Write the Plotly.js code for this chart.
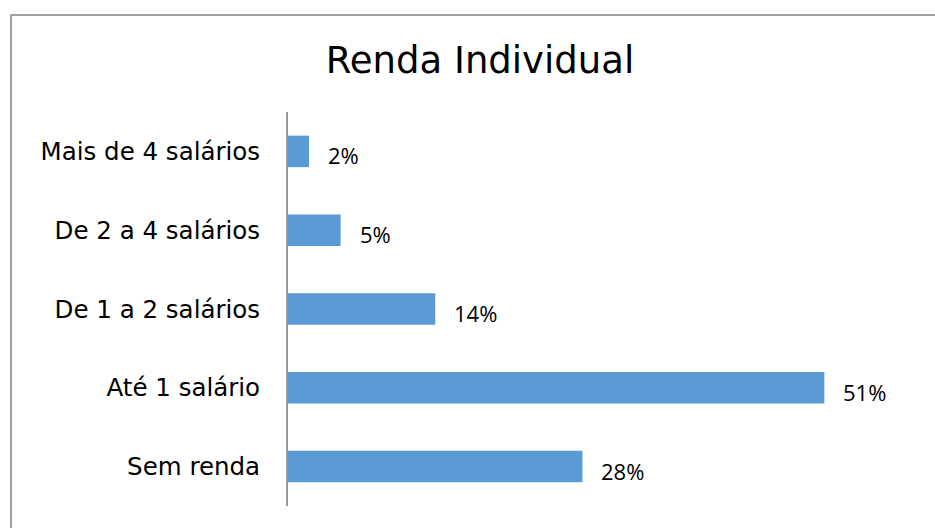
<!DOCTYPE html>
<html>
<head>
<meta charset="utf-8">
<script src="https://cdn.plot.ly/plotly-3.0.1.min.js"></script>
<style>
  html, body { margin: 0; padding: 0; background: #fff; overflow: hidden; }
  #frame { position: absolute; left: 10px; top: 14px; width: 940px; height: 540px;
           border-left: 2px solid #a0a0a0; border-top: 2px solid #a0a0a0; pointer-events: none; z-index: 5; }
  #chart { position: absolute; left: 0; top: 0; width: 935px; height: 528px; }
</style>
</head>
<body>
<div id="chart"></div>
<div id="frame"></div>
<script>
const categories = ["Sem renda", "Até 1 salário", "De 1 a 2 salários", "De 2 a 4 salários", "Mais de 4 salários"];
const values = [28, 51, 14, 5, 2];
const valueLabels = ["28%", "51%", "14%", "5%", "2%"];

const trace = {
  type: 'bar',
  orientation: 'h',
  x: values,
  y: categories,
  marker: { color: '#5b9bd5' },
  hoverinfo: 'none'
};

const annotations = values.map((v, i) => ({
  x: v, y: categories[i], xref: 'x', yref: 'y',
  text: valueLabels[i], showarrow: false,
  xanchor: 'left', yanchor: 'middle', xshift: 17, yshift: -4,
  font: { family: 'Open Sans, sans-serif', size: 22, color: '#000' }
}));

const layout = {
  width: 935, height: 528,
  margin: { l: 288, r: 16, t: 112, b: 22 },
  paper_bgcolor: '#fff', plot_bgcolor: '#fff',
  showlegend: false,
  bargap: 0.6,
  title: {
    text: 'Renda Individual',
    x: 480 / 935, xref: 'container', xanchor: 'center',
    y: 1 - 60 / 528, yref: 'container', yanchor: 'middle',
    font: { family: 'DejaVu Sans, sans-serif', size: 37, color: '#000' }
  },
  xaxis: { range: [0, 60], visible: false, fixedrange: true },
  yaxis: {
    type: 'category', categoryorder: 'array', categoryarray: categories,
    showline: true, linecolor: '#9a9a9a', linewidth: 2,
    showgrid: false, zeroline: false, ticks: '',
    ticklabelstandoff: 21,
    tickfont: { family: 'DejaVu Sans, sans-serif', size: 24.5, color: '#000' },
    fixedrange: true
  },
  annotations: annotations
};

Plotly.newPlot('chart', [trace], layout, { displayModeBar: false, staticPlot: true });
</script>
</body>
</html>
